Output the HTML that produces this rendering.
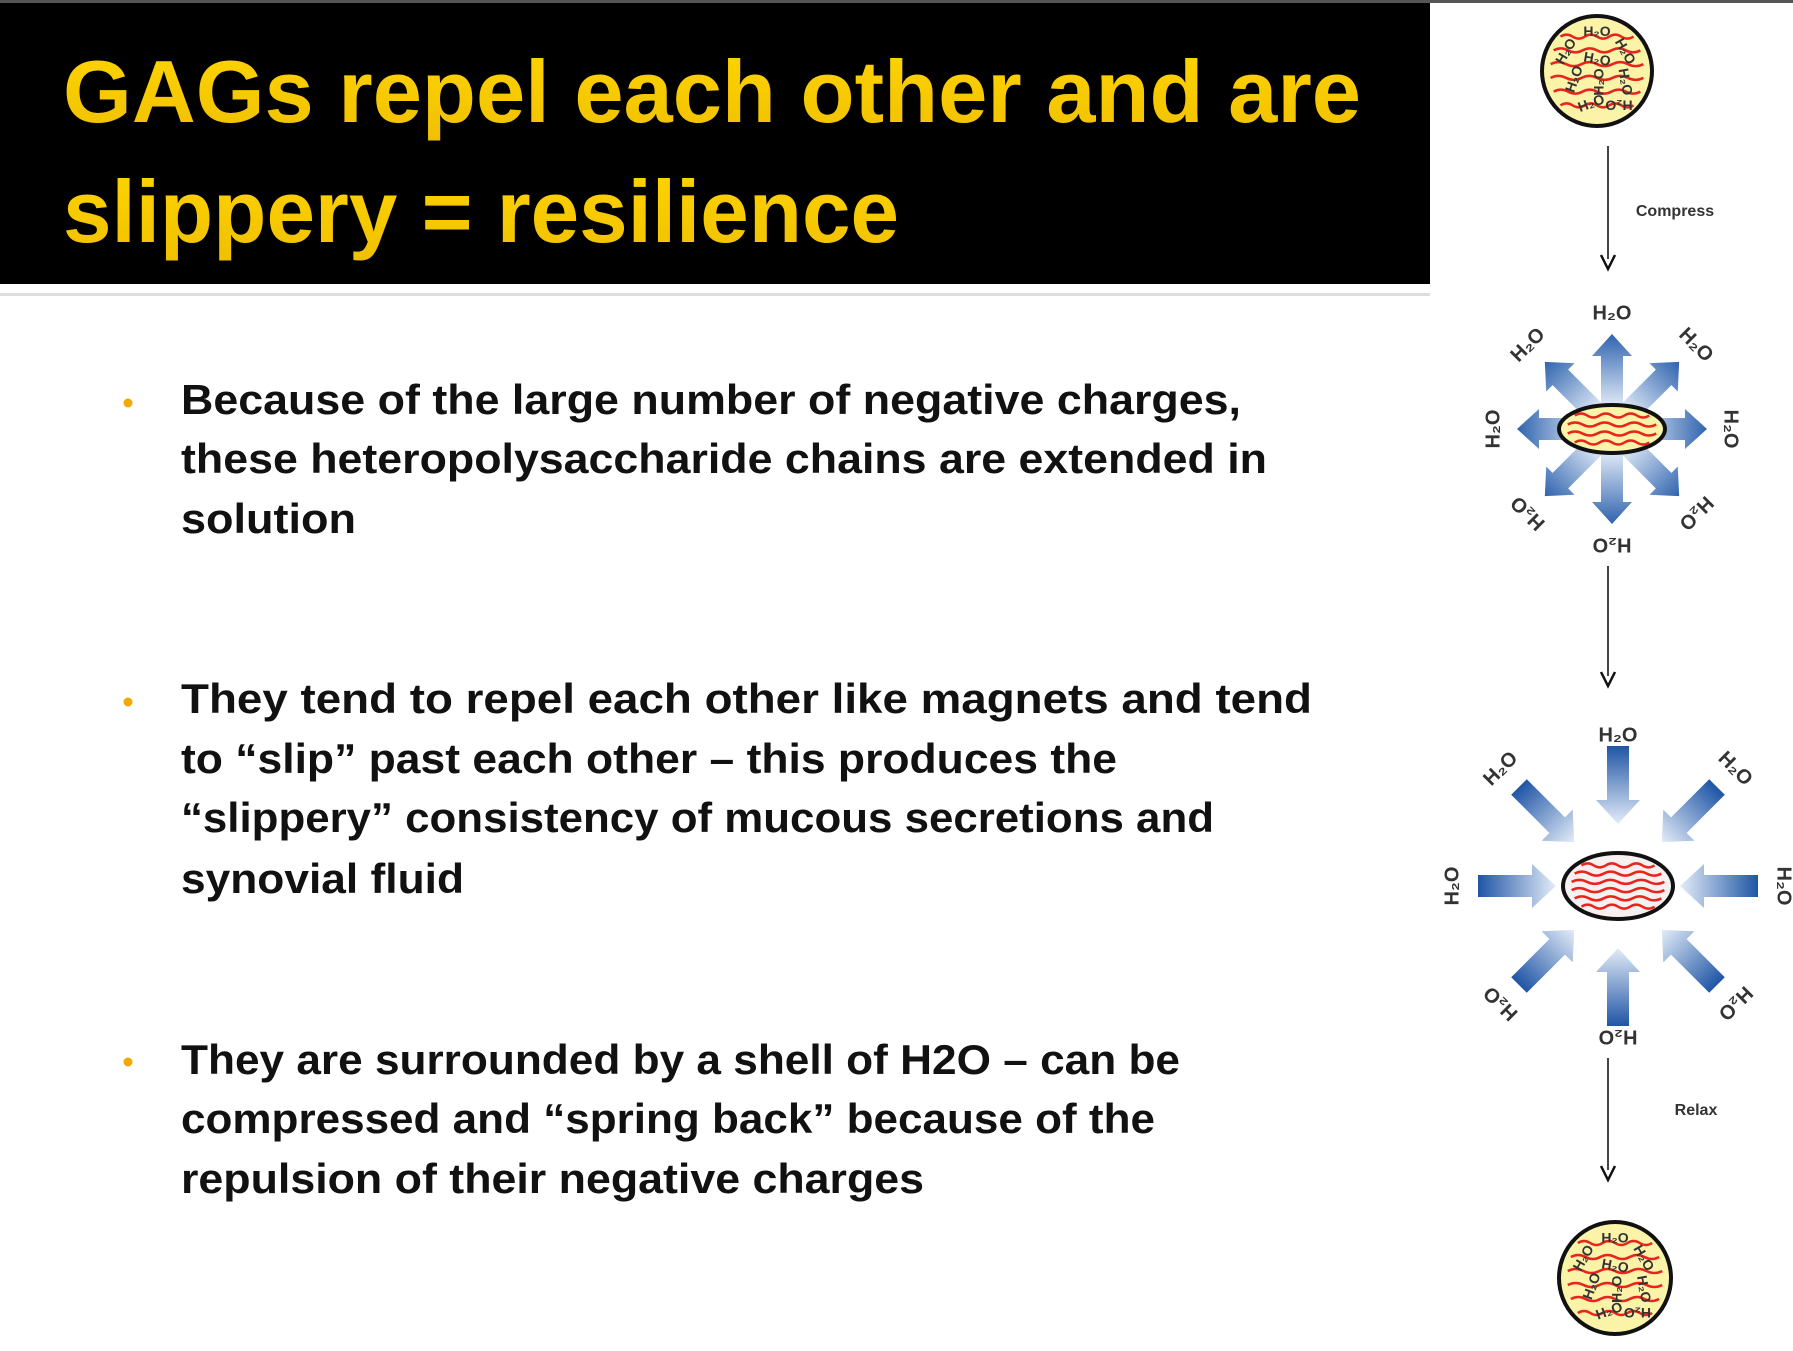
<!DOCTYPE html>
<html><head><meta charset="utf-8"><style>
html,body{margin:0;padding:0;background:#fff;}
svg{display:block;}
.t{font-family:"Liberation Sans",sans-serif;font-weight:bold;}
</style></head><body>
<svg width="1793" height="1351" viewBox="0 0 1793 1351">
<defs>
<linearGradient id="yg" x1="0" y1="0" x2="0" y2="1"><stop offset="0" stop-color="#ffd500"/><stop offset="1" stop-color="#f0c000"/></linearGradient>
<linearGradient id="ag" x1="0" y1="0" x2="1" y2="0"><stop offset="0" stop-color="#e8f0fa"/><stop offset="1" stop-color="#2f63ae"/></linearGradient>
<linearGradient id="ag2" x1="0" y1="0" x2="1" y2="0"><stop offset="0" stop-color="#e3ecf8"/><stop offset="1" stop-color="#1f55a5"/></linearGradient>
</defs>
<rect x="0" y="0" width="1793" height="3" fill="#555"/>
<rect x="0" y="3" width="1430" height="281" fill="#000"/>
<rect x="0" y="293" width="1430" height="3" fill="#ddd"/>
<g class="t" fill="url(#yg)" font-size="88">
<text x="63" y="122" textLength="1298" lengthAdjust="spacingAndGlyphs">GAGs repel each other and are</text>
<text x="63" y="242" textLength="836" lengthAdjust="spacingAndGlyphs">slippery = resilience</text>
</g>
<g class="t" font-size="42" fill="#111">
<g>
<circle cx="128" cy="403" r="4.5" fill="#f2a900"/>
<text x="181" y="414" textLength="1060" lengthAdjust="spacingAndGlyphs">Because of the large number of negative charges,</text>
<text x="181" y="473" textLength="1086" lengthAdjust="spacingAndGlyphs">these heteropolysaccharide chains are extended in</text>
<text x="181" y="533" textLength="175" lengthAdjust="spacingAndGlyphs">solution</text>
</g>
<g>
<circle cx="128" cy="702" r="4.5" fill="#f2a900"/>
<text x="181" y="713" textLength="1131" lengthAdjust="spacingAndGlyphs">They tend to repel each other  like magnets and tend</text>
<text x="181" y="773" textLength="936" lengthAdjust="spacingAndGlyphs">to “slip” past each other – this produces the</text>
<text x="181" y="832" textLength="1033" lengthAdjust="spacingAndGlyphs">“slippery” consistency of mucous secretions and</text>
<text x="181" y="893" textLength="283" lengthAdjust="spacingAndGlyphs">synovial fluid</text>
</g>
<g>
<circle cx="128" cy="1062" r="4.5" fill="#f2a900"/>
<text x="181" y="1074" textLength="999" lengthAdjust="spacingAndGlyphs">They are surrounded by a shell of H2O – can be</text>
<text x="181" y="1133" textLength="974" lengthAdjust="spacingAndGlyphs">compressed and “spring back” because of the</text>
<text x="181" y="1193" textLength="743" lengthAdjust="spacingAndGlyphs">repulsion of their negative charges</text>
</g>
</g>

<g id="diag"></g>
</svg>
<script>
var NS='http://www.w3.org/2000/svg';
var diag=document.getElementById('diag');
function mk(tag,attrs,parent){var e=document.createElementNS(NS,tag);for(var k in attrs)e.setAttribute(k,attrs[k]);(parent||diag).appendChild(e);return e;}
function txt(x,y,s,size,rot,parent){var t=mk('text',{x:x,y:y,'font-family':'Liberation Sans, sans-serif','font-weight':'bold','font-size':size,fill:'#333','text-anchor':'middle','dominant-baseline':'middle',transform:'rotate('+rot+' '+x+' '+y+')'},parent);t.textContent=s;return t;}
function squig(cx,cy,rx,ry,n,parent){
  for(var i=0;i<n;i++){
    var y=cy-ry*0.75+(i+0.5)*(1.5*ry/n);var w=rx*Math.sqrt(Math.max(0,1-Math.pow((y-cy)/ry,2)))*0.85;
    var d='M'+(cx-w)+' '+y;var seg=6;
    for(var j=1;j<=seg;j++){d+=' Q'+(cx-w+(j-0.5)*2*w/seg)+' '+(y+(j%2?-4:4))+' '+(cx-w+j*2*w/seg)+' '+y;}
    mk('path',{d:d,stroke:'#e8241c','stroke-width':2.5,fill:'none'},parent);
  }
}
function gag(cx,cy,r,name){
  var g=mk('g',{});
  
  
  mk('circle',{cx:cx,cy:cy,r:r,fill:'#fbf3a8',stroke:'#111','stroke-width':4},g);
  squig(cx,cy,r,r,6,g);
  var pos=[[0,-0.7,0],[-0.55,-0.35,-60],[0.5,-0.35,60],[0,-0.2,10],[-0.4,0.15,-70],[0.05,0.2,-90],[0.5,0.2,80],[-0.1,0.6,-20],[0.4,0.6,180]];
  pos.forEach(function(p){txt(cx+p[0]*r,cy+p[1]*r,'H₂O',14,p[2],g);});
}
function vArrow(x,y1,y2,name){
  var g=mk('g',{});
  
  
  mk('line',{x1:x,y1:y1,x2:x,y2:y2-10,stroke:'#444','stroke-width':2},g);
  mk('path',{d:'M'+(x-7)+' '+(y2-14)+' L'+x+' '+y2+' L'+(x+7)+' '+(y2-14),stroke:'#111','stroke-width':2.5,fill:'none'},g);
}
function blockArrow(cx,cy,ang,r1,r2,grad,g){
  var len=r2-r1;var hw=11,hh=20,hl=22;
  var d='M0 '+(-hw)+' L'+(len-hl)+' '+(-hw)+' L'+(len-hl)+' '+(-hh)+' L'+len+' 0 L'+(len-hl)+' '+hh+' L'+(len-hl)+' '+hw+' L0 '+hw+' Z';
  mk('path',{d:d,fill:grad,transform:'translate('+cx+' '+cy+') rotate('+ang+') translate('+r1+' 0)'},g);
}
function blockArrowIn(cx,cy,ang,r1,r2,g){
  var len=r2-r1;var hw=11,hh=22,hl=24;
  var d='M'+len+' '+(-hw)+' L'+hl+' '+(-hw)+' L'+hl+' '+(-hh)+' L0 0 L'+hl+' '+hh+' L'+hl+' '+hw+' L'+len+' '+hw+' Z';
  mk('path',{d:d,fill:'url(#ag2)',transform:'translate('+cx+' '+cy+') rotate('+ang+') translate('+r1+' 0)'},g);
}
var angles=[-90,-45,0,45,90,135,180,225];
var labelRot=[0,45,90,135,180,-135,-90,-45];

gag(1597,71,55,'relaxed-gag-top');
vArrow(1608,146,269,'compress-arrow');
var c1=txt(1675,212,'Compress',16,0);



var g1=mk('g',{});


angles.forEach(function(a){blockArrow(1612,429,a,20,95,'url(#ag)',g1);});
mk('ellipse',{cx:1612,cy:429,rx:53,ry:24,fill:'#fbf3a8',stroke:'#111','stroke-width':4},g1);
squig(1612,429,53,24,4,g1);
angles.forEach(function(a,i){var r=(a==-90||a==90)?115:118;txt(1612+r*Math.cos(a*Math.PI/180),429+r*Math.sin(a*Math.PI/180),'H₂O',20,labelRot[i],g1);});

vArrow(1608,566,686,'arrow-middle');

var g2=mk('g',{});


angles.forEach(function(a){blockArrowIn(1618,886,a,62,140,g2);});
mk('ellipse',{cx:1618,cy:886,rx:55,ry:33,fill:'#f8f0f0',stroke:'#111','stroke-width':4},g2);
squig(1618,886,55,33,6,g2);
angles.forEach(function(a,i){var r=(a==-90||a==90)?150:165;txt(1618+r*Math.cos(a*Math.PI/180),886+r*Math.sin(a*Math.PI/180),'H₂O',20,labelRot[i],g2);});

vArrow(1608,1058,1180,'relax-arrow');
var c2=txt(1696,1111,'Relax',16,0);


gag(1615,1278,56,'relaxed-gag-bottom');
</script>
</body></html>
